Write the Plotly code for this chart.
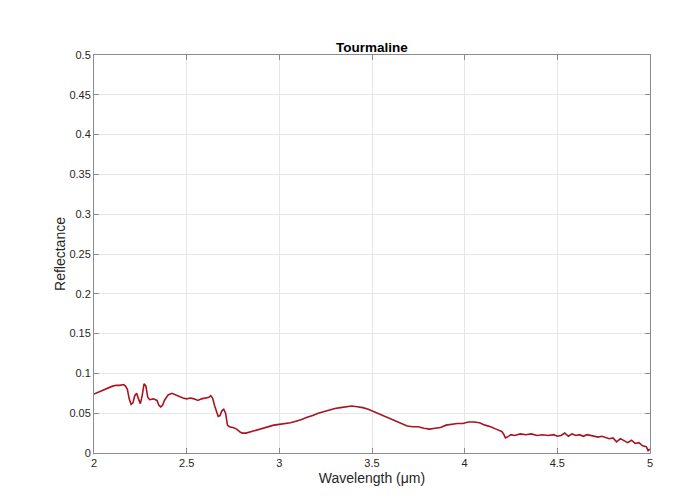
import plotly.graph_objects as go

# Reflectance spectrum of tourmaline (wavelength in micrometres)
wavelength = [
    2.00, 2.02, 2.04, 2.06, 2.08, 2.10, 2.12, 2.14, 2.16, 2.17, 2.18, 2.19, 2.20,
    2.21, 2.22, 2.23, 2.24, 2.25, 2.26, 2.27, 2.28, 2.29, 2.30, 2.32, 2.34, 2.35,
    2.36, 2.37, 2.38, 2.40, 2.42, 2.44, 2.46, 2.48, 2.50, 2.52, 2.54, 2.56, 2.58,
    2.60, 2.62, 2.63, 2.64, 2.65, 2.66, 2.67, 2.68, 2.69, 2.70, 2.71, 2.72, 2.73,
    2.75, 2.77, 2.79, 2.80, 2.82, 2.85, 2.88, 2.91, 2.94, 2.97, 3.00, 3.03, 3.06,
    3.09, 3.12, 3.15, 3.18, 3.21, 3.24, 3.27, 3.30, 3.33, 3.36, 3.39, 3.42, 3.45,
    3.48, 3.51, 3.54, 3.57, 3.60, 3.63, 3.66, 3.69, 3.72, 3.75, 3.78, 3.81, 3.84,
    3.87, 3.90, 3.93, 3.96, 3.99, 4.02, 4.05, 4.08, 4.11, 4.14, 4.17, 4.20, 4.21,
    4.22, 4.23, 4.25, 4.27, 4.30, 4.33, 4.36, 4.39, 4.42, 4.45, 4.48, 4.50, 4.52,
    4.54, 4.56, 4.58, 4.60, 4.62, 4.64, 4.66, 4.68, 4.70, 4.72, 4.74, 4.76, 4.78,
    4.80, 4.82, 4.84, 4.86, 4.88, 4.90, 4.92, 4.94, 4.96, 4.98, 4.99, 5.00,
]
reflectance = [
    0.074, 0.076, 0.078, 0.080, 0.082, 0.084, 0.085, 0.085, 0.086, 0.084, 0.080, 0.068, 0.061,
    0.063, 0.072, 0.075, 0.068, 0.062, 0.072, 0.087, 0.084, 0.070, 0.067, 0.068, 0.066, 0.060,
    0.058, 0.060, 0.066, 0.073, 0.075, 0.073, 0.070, 0.069, 0.068, 0.069, 0.068, 0.066, 0.068,
    0.069, 0.070, 0.072, 0.069, 0.060, 0.054, 0.046, 0.047, 0.053, 0.055, 0.050, 0.035, 0.033,
    0.032, 0.030, 0.026, 0.025, 0.025, 0.027, 0.029, 0.031, 0.033, 0.035, 0.036, 0.037, 0.038,
    0.040, 0.042, 0.045, 0.047, 0.050, 0.052, 0.054, 0.056, 0.057, 0.058, 0.059, 0.058, 0.057,
    0.055, 0.052, 0.049, 0.046, 0.043, 0.039, 0.036, 0.034, 0.033, 0.033, 0.031, 0.030, 0.031,
    0.032, 0.035, 0.036, 0.037, 0.037, 0.039, 0.039, 0.038, 0.035, 0.033, 0.030, 0.027, 0.024,
    0.019, 0.020, 0.023, 0.022, 0.024, 0.023, 0.024, 0.022, 0.023, 0.022, 0.023, 0.021, 0.022,
    0.025, 0.021, 0.024, 0.022, 0.023, 0.021, 0.023, 0.022, 0.021, 0.020, 0.021, 0.019, 0.018,
    0.019, 0.014, 0.018, 0.015, 0.013, 0.016, 0.012, 0.013, 0.009, 0.008, 0.003, 0.005,
]

x_ticks = [2, 2.5, 3, 3.5, 4, 4.5, 5]
y_ticks = [0, 0.05, 0.1, 0.15, 0.2, 0.25, 0.3, 0.35, 0.4, 0.45, 0.5]

fig = go.Figure()
fig.add_trace(go.Scatter(
    x=wavelength, y=reflectance, mode="lines",
    line=dict(color="#a8141f", width=1.6),
    showlegend=False,
))

axis_style = dict(
    showline=True, linecolor="#8c8c8c", linewidth=1, mirror="ticks",
    ticks="inside", ticklen=5, tickcolor="#8c8c8c",
    showgrid=True, gridcolor="#e6e6e6", gridwidth=1,
    zeroline=False,
    tickfont=dict(family="Liberation Sans, Arial", size=11, color="#262626"),
)

fig.update_layout(
    width=696, height=503,
    margin=dict(l=94, r=46, t=55, b=50),
    paper_bgcolor="white", plot_bgcolor="white",
    title=dict(
        text="<b>Tourmaline</b>", x=0.5, xanchor="center", xref="paper",
        y=1, yref="paper", yanchor="bottom", pad=dict(b=3),
        font=dict(family="Liberation Sans, Arial", size=13.5, color="#000000"),
    ),
    xaxis=dict(
        range=[2, 5], tickvals=x_ticks, ticktext=[f"{v:g}" for v in x_ticks],
        title=dict(text="Wavelength (μm)", standoff=4,
                   font=dict(family="Liberation Sans, Arial", size=14, color="#262626")),
        **axis_style,
    ),
    yaxis=dict(
        range=[0, 0.5], tickvals=y_ticks, ticktext=[f"{v:g}" for v in y_ticks],
        title=dict(text="Reflectance", standoff=0,
                   font=dict(family="Liberation Sans, Arial", size=14, color="#262626")),
        **axis_style,
    ),
)

fig.write_html("out.html")
